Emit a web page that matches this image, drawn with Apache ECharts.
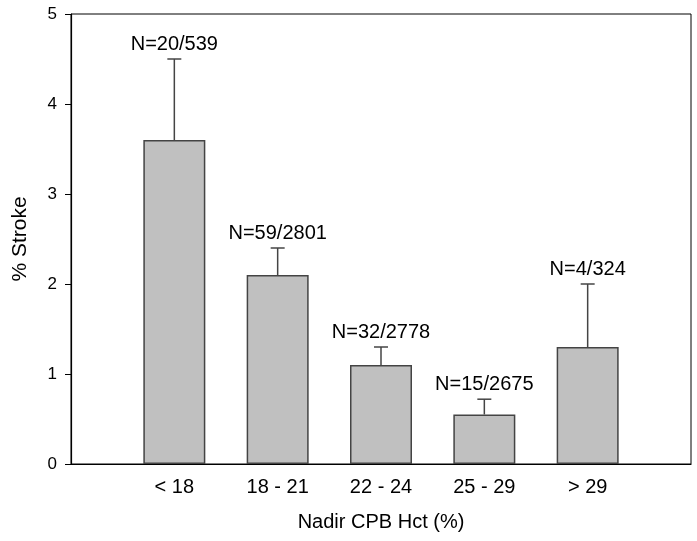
<!DOCTYPE html>
<html>
<head>
<meta charset="utf-8">
<script src="https://cdn.jsdelivr.net/npm/echarts@6/dist/echarts.min.js"></script>
<style>
  html, body { margin: 0; padding: 0; background: #fff; }
  #chart { width: 697px; height: 541px; }
</style>
</head>
<body>
<div id="chart"></div>
<script>
// data
const categories = ['< 18', '18 - 21', '22 - 24', '25 - 29', '> 29']
const strokePct = [3.6, 2.1, 1.1, 0.55, 1.3]
const errorTop = [4.5, 2.4, 1.3, 0.72, 2.0]
const counts = ['N=20/539', 'N=59/2801', 'N=32/2778', 'N=15/2675', 'N=4/324']
const yTicks = [0, 1, 2, 3, 4, 5]

const font = 'Liberation Sans, Arial, sans-serif'
const chart = echarts.init(document.getElementById('chart'))

// bars sit at 1..n on a 0..n+1 value axis
const barData = strokePct.map((v, i) => [i + 1, v])
const errData = strokePct.map((v, i) => [i + 1, v, errorTop[i], counts[i]])

chart.setOption({
  animation: false,
  grid: {
    left: 71, right: 6, top: 14, bottom: 77,
    show: true, borderColor: '#000', borderWidth: 1, backgroundColor: 'transparent'
  },
  xAxis: {
    type: 'value',
    min: 0,
    max: categories.length + 1,
    interval: 1,
    name: 'Nadir CPB Hct (%)',
    nameLocation: 'middle',
    nameGap: 48,
    nameTextStyle: { fontFamily: font, fontSize: 20, color: '#000' },
    axisLine: { show: true, onZero: false, lineStyle: { color: '#000', width: 1.2 } },
    axisTick: { show: false },
    splitLine: { show: false },
    axisLabel: {
      margin: 13,
      fontFamily: font, fontSize: 20, color: '#000',
      formatter: v => categories[v - 1] || ''
    }
  },
  yAxis: {
    type: 'value',
    min: yTicks[0],
    max: yTicks[yTicks.length - 1],
    interval: 1,
    name: '% Stroke',
    nameLocation: 'middle',
    nameGap: 40,
    nameTextStyle: { fontFamily: font, fontSize: 21, color: '#000' },
    axisLine: { show: true, lineStyle: { color: '#000', width: 1.2 } },
    axisTick: { show: true, inside: false, length: 6, lineStyle: { color: '#000' } },
    splitLine: { show: false },
    axisLabel: { margin: 14, fontFamily: font, fontSize: 17, color: '#000' }
  },
  series: [
    {
      type: 'bar',
      data: barData,
      barWidth: 62,
      itemStyle: { color: '#c0c0c0', borderColor: '#444', borderWidth: 1.5 },
      z: 2
    },
    {
      type: 'custom',
      data: errData,
      z: 3,
      renderItem: function (params, api) {
        const base = api.coord([api.value(0), api.value(1)])
        const top = api.coord([api.value(0), api.value(2)])
        const half = 7
        return {
          type: 'group',
          children: [
            {
              type: 'line',
              shape: { x1: base[0], y1: base[1], x2: top[0], y2: top[1] },
              style: { stroke: '#444', lineWidth: 1.5 }
            },
            {
              type: 'line',
              shape: { x1: top[0] - half, y1: top[1], x2: top[0] + half, y2: top[1] },
              style: { stroke: '#444', lineWidth: 1.5 }
            },
            {
              type: 'text',
              x: top[0],
              y: top[1] - 5,
              style: {
                text: counts[params.dataIndex],
                fontFamily: font, fontSize: 20, fill: '#000',
                align: 'center', verticalAlign: 'bottom'
              }
            }
          ]
        }
      }
    }
  ]
})

window.onresize = function () {
  chart.resize()
}
</script>
</body>
</html>
